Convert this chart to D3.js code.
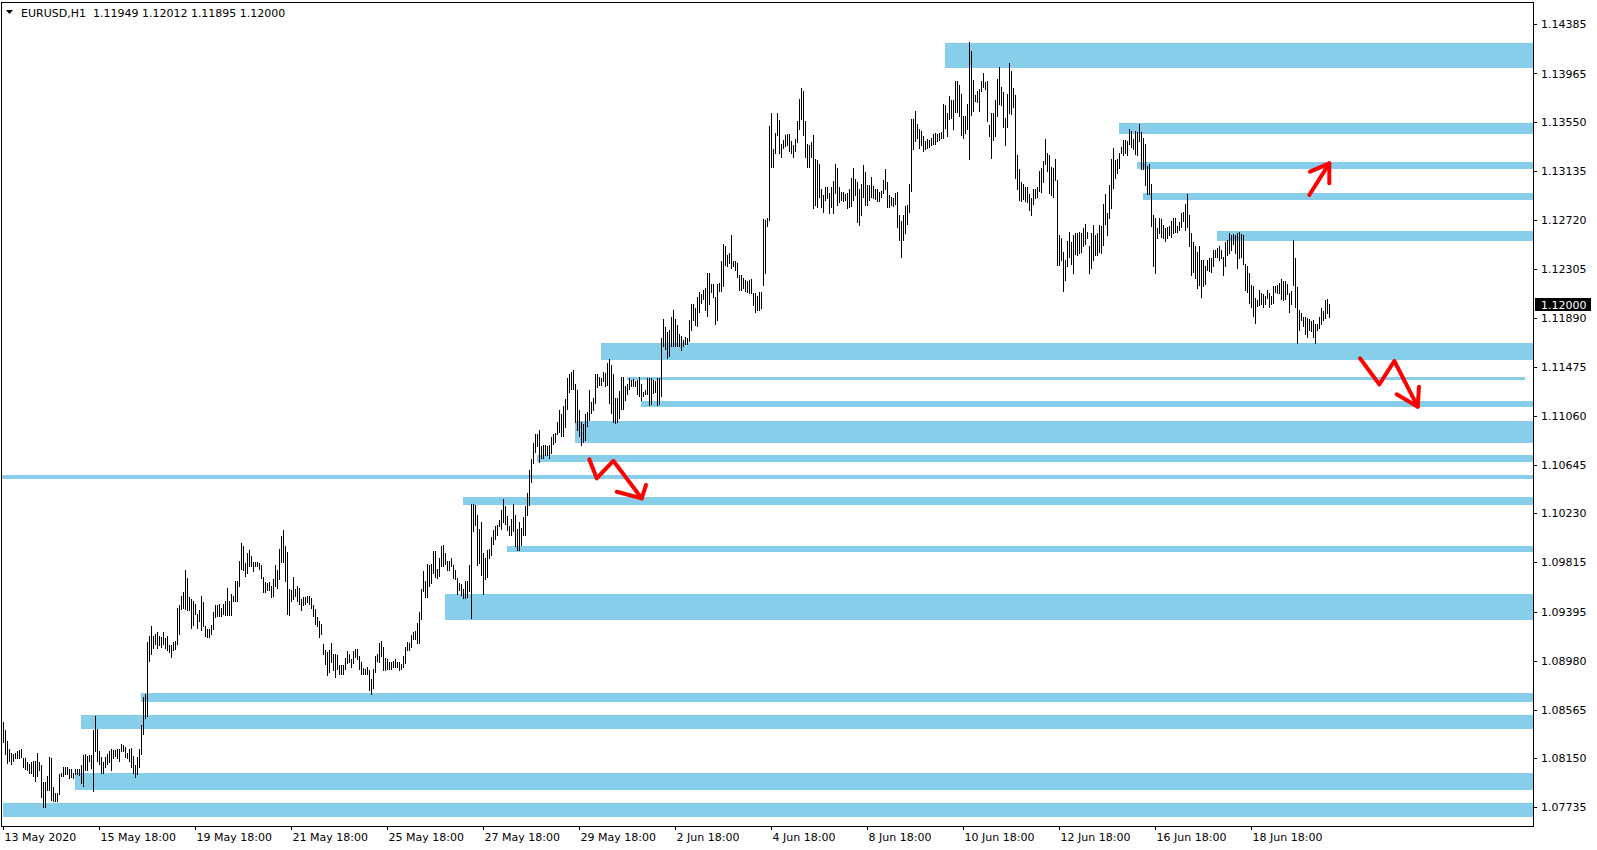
<!DOCTYPE html>
<html><head><meta charset="utf-8">
<script src="https://cdn.jsdelivr.net/npm/d3@7"></script>
<style>
body{margin:0;background:#fff;}
svg{display:block;}
text{font-family:"DejaVu Sans",sans-serif;font-size:11px;fill:#000;}
</style>
</head><body>
<svg id="c" width="1597" height="850"></svg>
<script>
const symbol = "EURUSD,H1";
const lastOHLC = [1.11949, 1.12012, 1.11895, 1.12000];
const currentPrice = 1.12000;
const timeLabels = ["13 May 2020","15 May 18:00","19 May 18:00","21 May 18:00","25 May 18:00","27 May 18:00","29 May 18:00","2 Jun 18:00","4 Jun 18:00","8 Jun 18:00","10 Jun 18:00","12 Jun 18:00","16 Jun 18:00","18 Jun 18:00"];
const barsPerLabel = 48;
const priceTicks = [1.14385,1.13965,1.13550,1.13135,1.12720,1.12305,1.11890,1.11475,1.11060,1.10645,1.10230,1.09815,1.09395,1.08980,1.08565,1.08150,1.07735];

// H1 bar highs / lows
const highs = [
1.0846,1.0839,1.0830,1.0823,1.0820,1.0819,1.0820,1.0821,1.0822,1.0823,
1.0815,1.0815,1.0812,1.0810,1.0812,1.0813,1.0813,1.0820,1.0812,1.0809,
1.0795,1.0795,1.0800,1.0816,1.0815,1.0791,1.0786,1.0786,1.0802,1.0803,
1.0808,1.0808,1.0808,1.0806,1.0806,1.0803,1.0806,1.0806,1.0806,1.0809,
1.0818,1.0819,1.0817,1.0818,1.0818,1.0839,1.0851,1.0840,1.0821,1.0816,
1.0812,1.0816,1.0819,1.0821,1.0823,1.0822,1.0822,1.0823,1.0823,1.0827,
1.0826,1.0825,1.0820,1.0823,1.0824,1.0817,1.0809,1.0816,1.0823,1.0843,
1.0867,1.0870,1.0914,1.0919,1.0927,1.0919,1.0921,1.0922,1.0919,1.0918,
1.0922,1.0917,1.0919,1.0911,1.0911,1.0914,1.0915,1.0943,1.0945,1.0953,
1.0956,1.0975,1.0968,1.0952,1.0950,1.0949,1.0946,1.0938,1.0941,1.0953,
1.0948,1.0927,1.0925,1.0925,1.0928,1.0939,1.0945,1.0945,1.0946,1.0943,
1.0946,1.0949,1.0960,1.0949,1.0955,1.0953,1.0966,1.0966,1.0983,1.0998,
1.0995,1.0981,1.0989,1.0992,1.0987,1.0982,1.0982,1.0982,1.0981,1.0979,
1.0969,1.0965,1.0964,1.0965,1.0961,1.0967,1.0979,1.0975,1.0993,1.1004,
1.1009,1.0995,1.0990,1.0959,1.0958,1.0969,1.0959,1.0961,1.0960,1.0950,
1.0952,1.0952,1.0953,1.0953,1.0951,1.0945,1.0942,1.0935,1.0932,1.0929,
1.0912,1.0907,1.0905,1.0907,1.0913,1.0904,1.0904,1.0903,1.0894,1.0894,
1.0894,1.0900,1.0906,1.0904,1.0899,1.0906,1.0908,1.0908,1.0902,1.0897,
1.0892,1.0891,1.0893,1.0890,1.0882,1.0891,1.0902,1.0904,1.0913,1.0915,
1.0910,1.0900,1.0899,1.0897,1.0897,1.0898,1.0899,1.0897,1.0897,1.0895,
1.0902,1.0910,1.0914,1.0913,1.0920,1.0922,1.0923,1.0930,1.0939,1.0959,
1.0974,1.0966,1.0980,1.0979,1.0980,1.0991,1.0991,1.0976,1.0985,1.0995,
1.0996,1.0989,1.0983,1.0983,1.0985,1.0979,1.0975,1.0968,1.0964,1.0963,
1.0959,1.0966,1.0966,1.0979,1.1031,1.1031,1.1030,1.1022,1.1010,1.1016,
1.0989,1.0985,1.0992,1.0993,1.1003,1.1009,1.1012,1.1013,1.1017,1.1026,
1.1035,1.1029,1.1021,1.1012,1.1018,1.1031,1.1022,1.1010,1.1016,1.1011,
1.1020,1.1029,1.1040,1.1060,1.1069,1.1083,1.1090,1.1090,1.1094,1.1080,
1.1081,1.1081,1.1080,1.1081,1.1088,1.1090,1.1091,1.1101,1.1111,1.1107,
1.1114,1.1120,1.1138,1.1141,1.1143,1.1145,1.1133,1.1128,1.1111,1.1101,
1.1099,1.1107,1.1109,1.1128,1.1118,1.1121,1.1141,1.1141,1.1139,1.1138,
1.1143,1.1142,1.1151,1.1154,1.1149,1.1141,1.1121,1.1121,1.1127,1.1139,
1.1139,1.1131,1.1133,1.1138,1.1136,1.1137,1.1135,1.1136,1.1139,1.1133,
1.1126,1.1128,1.1138,1.1138,1.1138,1.1136,1.1135,1.1138,1.1138,1.1172,
1.1188,1.1181,1.1177,1.1179,1.1190,1.1196,1.1188,1.1183,1.1175,1.1174,
1.1170,1.1173,1.1172,1.1187,1.1201,1.1201,1.1197,1.1207,1.1211,1.1209,
1.1213,1.1214,1.1227,1.1227,1.1218,1.1218,1.1207,1.1218,1.1219,1.1237,
1.1252,1.1250,1.1242,1.1244,1.1259,1.1237,1.1237,1.1236,1.1225,1.1225,
1.1223,1.1221,1.1220,1.1221,1.1222,1.1210,1.1210,1.1208,1.1211,1.1211,
1.1273,1.1272,1.1274,1.1352,1.1363,1.1332,1.1346,1.1363,1.1357,1.1337,
1.1340,1.1344,1.1345,1.1345,1.1339,1.1336,1.1341,1.1356,1.1375,1.1384,
1.1382,1.1356,1.1337,1.1336,1.1338,1.1344,1.1324,1.1323,1.1320,1.1298,
1.1293,1.1300,1.1300,1.1295,1.1300,1.1305,1.1320,1.1316,1.1300,1.1296,
1.1296,1.1294,1.1295,1.1298,1.1308,1.1316,1.1307,1.1304,1.1298,1.1303,
1.1319,1.1313,1.1302,1.1302,1.1309,1.1301,1.1298,1.1298,1.1296,1.1297,
1.1306,1.1315,1.1304,1.1293,1.1292,1.1291,1.1295,1.1296,1.1276,1.1271,
1.1276,1.1284,1.1285,1.1303,1.1358,1.1358,1.1365,1.1354,1.1349,1.1348,
1.1343,1.1339,1.1341,1.1340,1.1342,1.1345,1.1346,1.1345,1.1346,1.1347,
1.1371,1.1370,1.1363,1.1377,1.1374,1.1374,1.1390,1.1390,1.1387,1.1379,
1.1360,1.1360,1.1371,1.1423,1.1416,1.1391,1.1378,1.1382,1.1383,1.1390,
1.1397,1.1389,1.1390,1.1353,1.1363,1.1363,1.1374,1.1392,1.1402,1.1385,
1.1381,1.1359,1.1379,1.1405,1.1399,1.1384,1.1378,1.1327,1.1315,1.1304,
1.1303,1.1300,1.1300,1.1294,1.1291,1.1298,1.1298,1.1300,1.1314,1.1316,
1.1322,1.1341,1.1329,1.1327,1.1317,1.1316,1.1324,1.1306,1.1259,1.1257,
1.1245,1.1238,1.1254,1.1262,1.1253,1.1259,1.1261,1.1261,1.1262,1.1261,
1.1265,1.1269,1.1262,1.1250,1.1261,1.1268,1.1259,1.1261,1.1268,1.1267,
1.1286,1.1294,1.1278,1.1302,1.1324,1.1333,1.1323,1.1324,1.1329,1.1334,
1.1340,1.1340,1.1339,1.1349,1.1348,1.1341,1.1348,1.1347,1.1354,1.1347,
1.1342,1.1337,1.1318,1.1320,1.1303,1.1276,1.1274,1.1265,1.1274,1.1273,
1.1268,1.1265,1.1266,1.1267,1.1271,1.1274,1.1274,1.1267,1.1270,1.1278,
1.1279,1.1286,1.1294,1.1276,1.1261,1.1253,1.1250,1.1245,1.1250,1.1238,
1.1238,1.1233,1.1238,1.1240,1.1240,1.1247,1.1247,1.1248,1.1250,1.1247,
1.1241,1.1253,1.1255,1.1261,1.1259,1.1260,1.1259,1.1261,1.1262,1.1260,
1.1259,1.1235,1.1233,1.1227,1.1217,1.1216,1.1206,1.1204,1.1213,1.1210,
1.1209,1.1208,1.1213,1.1210,1.1208,1.1216,1.1216,1.1217,1.1219,1.1222,
1.1220,1.1220,1.1218,1.1210,1.1212,1.1255,1.1240,1.1215,1.1196,1.1193,
1.1190,1.1190,1.1189,1.1188,1.1186,1.1187,1.1184,1.1184,1.1190,1.1197,
1.1195,1.1204,1.1205,1.12012];
const lows = [
1.0829,1.0819,1.0811,1.0813,1.0810,1.0813,1.0815,1.0815,1.0815,1.0816,
1.0808,1.0806,1.0805,1.0803,1.0803,1.0800,1.0796,1.0800,1.0805,1.0782,
1.0774,1.0774,1.0788,1.0788,1.0780,1.0779,1.0779,1.0779,1.0785,1.0800,
1.0800,1.0802,1.0802,1.0798,1.0799,1.0798,1.0802,1.0802,1.0801,1.0794,
1.0792,1.0805,1.0805,1.0813,1.0807,1.0787,1.0821,1.0813,1.0810,1.0803,
1.0803,1.0808,1.0810,1.0812,1.0805,1.0815,1.0817,1.0815,1.0813,1.0821,
1.0821,1.0816,1.0815,1.0813,1.0808,1.0803,1.0799,1.0802,1.0808,1.0819,
1.0836,1.0849,1.0851,1.0898,1.0904,1.0909,1.0912,1.0909,1.0911,1.0910,
1.0912,1.0909,1.0907,1.0905,1.0901,1.0907,1.0908,1.0912,1.0921,1.0942,
1.0943,1.0942,1.0941,1.0941,1.0926,1.0928,1.0938,1.0926,1.0932,1.0924,
1.0927,1.0919,1.0918,1.0918,1.0921,1.0925,1.0935,1.0936,1.0936,1.0936,
1.0938,1.0937,1.0937,1.0937,1.0937,1.0949,1.0949,1.0949,1.0961,1.0976,
1.0975,1.0970,1.0972,1.0978,1.0978,1.0974,1.0978,1.0978,1.0976,1.0968,
1.0956,1.0956,1.0958,1.0958,1.0952,1.0953,1.0961,1.0960,1.0967,1.0982,
1.0982,1.0966,1.0938,1.0937,1.0949,1.0950,1.0953,1.0949,1.0946,1.0941,
1.0945,1.0946,1.0948,1.0946,1.0943,1.0936,1.0929,1.0927,1.0918,1.0921,
1.0904,1.0895,1.0886,1.0888,1.0897,1.0890,1.0884,1.0891,1.0887,1.0887,
1.0887,1.0891,1.0896,1.0897,1.0893,1.0896,1.0901,1.0899,1.0891,1.0887,
1.0887,1.0887,1.0887,1.0873,1.0870,1.0875,1.0888,1.0898,1.0897,1.0902,
1.0890,1.0890,1.0891,1.0891,1.0891,1.0893,1.0893,1.0893,1.0890,1.0891,
1.0893,1.0896,1.0907,1.0907,1.0910,1.0916,1.0916,1.0913,1.0913,1.0933,
1.0957,1.0952,1.0952,1.0961,1.0964,1.0972,1.0969,1.0968,1.0970,1.0978,
1.0978,1.0980,1.0975,1.0975,1.0978,1.0968,1.0967,1.0955,1.0958,1.0954,
1.0951,1.0951,1.0952,1.0957,1.0934,1.1008,1.1013,1.0979,1.0981,1.0971,
1.0955,1.0967,1.0969,1.0985,1.0988,1.0997,1.1001,1.1005,1.1012,1.1010,
1.1016,1.1014,1.1009,1.1005,1.1005,1.1008,1.0995,1.0992,1.0992,1.0996,
1.1005,1.1005,1.1022,1.1030,1.1050,1.1066,1.1075,1.1080,1.1067,1.1070,
1.1070,1.1073,1.1073,1.1070,1.1074,1.1082,1.1084,1.1090,1.1092,1.1089,
1.1089,1.1096,1.1112,1.1126,1.1129,1.1129,1.1101,1.1094,1.1089,1.1081,
1.1084,1.1085,1.1097,1.1102,1.1108,1.1111,1.1117,1.1130,1.1132,1.1132,
1.1135,1.1131,1.1132,1.1117,1.1108,1.1101,1.1100,1.1101,1.1104,1.1112,
1.1112,1.1119,1.1124,1.1129,1.1131,1.1131,1.1131,1.1124,1.1123,1.1119,
1.1123,1.1124,1.1124,1.1115,1.1116,1.1125,1.1126,1.1115,1.1116,1.1123,
1.1165,1.1163,1.1155,1.1157,1.1165,1.1165,1.1165,1.1165,1.1165,1.1162,
1.1165,1.1167,1.1167,1.1169,1.1179,1.1187,1.1183,1.1182,1.1194,1.1202,
1.1205,1.1196,1.1191,1.1201,1.1211,1.1207,1.1184,1.1187,1.1212,1.1212,
1.1216,1.1234,1.1233,1.1236,1.1231,1.1233,1.1230,1.1224,1.1213,1.1213,
1.1214,1.1212,1.1211,1.1210,1.1210,1.1200,1.1194,1.1196,1.1196,1.1197,
1.1217,1.1227,1.1267,1.1272,1.1317,1.1317,1.1329,1.1344,1.1329,1.1326,
1.1333,1.1335,1.1336,1.1331,1.1329,1.1326,1.1331,1.1338,1.1349,1.1358,
1.1344,1.1326,1.1317,1.1317,1.1326,1.1282,1.1285,1.1283,1.1292,1.1283,
1.1279,1.1289,1.1291,1.1278,1.1283,1.1278,1.1295,1.1285,1.1287,1.1289,
1.1288,1.1289,1.1282,1.1283,1.1284,1.1289,1.1293,1.1270,1.1268,1.1276,
1.1292,1.1285,1.1285,1.1289,1.1292,1.1291,1.1290,1.1288,1.1288,1.1292,
1.1295,1.1298,1.1283,1.1283,1.1285,1.1284,1.1286,1.1266,1.1255,1.1241,
1.1255,1.1261,1.1269,1.1279,1.1297,1.1332,1.1339,1.1342,1.1333,1.1336,
1.1331,1.1332,1.1333,1.1334,1.1336,1.1337,1.1337,1.1339,1.1340,1.1342,
1.1342,1.1350,1.1343,1.1358,1.1359,1.1349,1.1364,1.1364,1.1360,1.1344,
1.1342,1.1346,1.1349,1.1324,1.1361,1.1365,1.1373,1.1372,1.1365,1.1382,
1.1385,1.1383,1.1356,1.1343,1.1325,1.1340,1.1343,1.1360,1.1371,1.1370,
1.1351,1.1336,1.1351,1.1363,1.1362,1.1368,1.1308,1.1298,1.1289,1.1288,
1.1290,1.1288,1.1287,1.1281,1.1276,1.1286,1.1291,1.1292,1.1297,1.1296,
1.1304,1.1320,1.1314,1.1295,1.1293,1.1292,1.1306,1.1234,1.1234,1.1238,
1.1212,1.1221,1.1233,1.1241,1.1235,1.1227,1.1243,1.1242,1.1244,1.1245,
1.1250,1.1252,1.1257,1.1227,1.1231,1.1238,1.1242,1.1242,1.1245,1.1244,
1.1251,1.1269,1.1259,1.1274,1.1282,1.1299,1.1308,1.1312,1.1316,1.1329,
1.1327,1.1329,1.1327,1.1337,1.1334,1.1332,1.1328,1.1327,1.1339,1.1315,
1.1315,1.1302,1.1294,1.1294,1.1267,1.1233,1.1227,1.1257,1.1261,1.1258,
1.1257,1.1254,1.1257,1.1259,1.1258,1.1261,1.1262,1.1262,1.1264,1.1266,
1.1271,1.1264,1.1266,1.1250,1.1225,1.1228,1.1223,1.1214,1.1217,1.1207,
1.1216,1.1218,1.1230,1.1229,1.1228,1.1233,1.1241,1.1241,1.1238,1.1240,
1.1225,1.1233,1.1242,1.1244,1.1247,1.1252,1.1244,1.1231,1.1240,1.1241,
1.1235,1.1213,1.1211,1.1202,1.1198,1.1191,1.1185,1.1199,1.1200,1.1201,
1.1198,1.1201,1.1206,1.1198,1.1201,1.1202,1.1211,1.1210,1.1210,1.1205,
1.1204,1.1205,1.1209,1.1194,1.1201,1.1217,1.1198,1.1168,1.1179,1.1187,
1.1182,1.1175,1.1173,1.1179,1.1178,1.1173,1.1168,1.1179,1.1180,1.1184,
1.1187,1.1189,1.1193,1.11895];

// support / resistance rectangles (start bar, end bar or null = to the price scale, top, bottom)
const zoneStart  = [471, 558, 567, 570, 607, 299, 312, 319, 286, 267, -1, 230, 252, 221, 69, 39, 36, 0];
const zoneEnd    = [null,null,null,null,null,null,761,null,null,null,null,null,null,null,null,null,null,null];
const zoneTop    = [1.14226,1.13542,1.13213,1.12948,1.12628,1.11679,1.11391,1.11187,1.11017,1.10726,1.10556,1.10367,1.09953,1.09546,1.08708,1.08518,1.08029,1.07774];
const zoneBottom = [1.14014,1.13451,1.13157,1.12891,1.12545,1.11532,1.11363,1.11136,1.10825,1.10669,1.10522,1.10304,1.09902,1.09325,1.08631,1.08400,1.07882,1.07655];

// hand-drawn red arrows, as [bar, price] points
const arrowPaths = [
  [[292.9,1.10689],[296.6,1.10528],[304.9,1.10677],[319.1,1.10358]],
  [[306.6,1.10414],[319.1,1.10358],[321.25,1.10471]],
  [[652.9,1.12933],[662.9,1.13202]],
  [[653.25,1.13131],[662.9,1.13202],[662.9,1.13033]],
  [[678.25,1.11547],[687.9,1.11326],[695.4,1.11524],[707.1,1.11136]],
  [[696.6,1.11241],[707.1,1.11136],[707.75,1.11306]]
];

const plotL = 2, plotR = 1533, plotT = 2, plotB = 826;
const svg = d3.select("#c");

const x = d3.scaleLinear().domain([0, 663]).range([3, 1329]);
const y = d3.scaleLinear().domain([1.07735, 1.14385]).range([807.3, 24]);

svg.append("defs").append("clipPath").attr("id","plot")
  .append("rect").attr("x", plotL).attr("y", plotT).attr("width", plotR - plotL).attr("height", plotB - plotT);

const plot = svg.append("g").attr("clip-path","url(#plot)");

// zones
const zones = zoneStart.map((s,i)=>({s, e: zoneEnd[i], t: zoneTop[i], b: zoneBottom[i]}));
plot.append("g").selectAll("rect").data(zones).join("rect")
  .attr("x", d => x(d.s))
  .attr("y", d => y(d.t))
  .attr("width", d => (d.e === null ? plotR : x(d.e)) - x(d.s))
  .attr("height", d => y(d.b) - y(d.t))
  .attr("fill", "#87CEEB")
  .attr("shape-rendering","crispEdges");

// bars
const bars = highs.map((h,i)=>({i, h, l: lows[i]}));
plot.append("g").selectAll("line").data(bars).join("line")
  .attr("x1", d => x(d.i) + 0.5).attr("x2", d => x(d.i) + 0.5)
  .attr("y1", d => y(d.h)).attr("y2", d => y(d.l) + 1)
  .attr("stroke", "#000").attr("stroke-width", 1)
  .attr("shape-rendering","crispEdges");

// arrows
const line = d3.line().x(d => x(d[0]) + 0.5).y(d => y(d[1]));
plot.append("g").selectAll("path").data(arrowPaths).join("path")
  .attr("d", line)
  .attr("fill","none").attr("stroke","#ff0000").attr("stroke-width",4)
  .attr("stroke-linecap","round").attr("stroke-linejoin","round");

// frame
svg.append("rect").attr("x", plotL - 0.5).attr("y", plotT + 0.5)
  .attr("width", plotR - plotL + 1).attr("height", plotB - plotT)
  .attr("fill","none").attr("stroke","#000").attr("shape-rendering","crispEdges");

// right price axis
const yAxis = d3.axisRight(y).tickValues(priceTicks).tickFormat(d3.format(".5f")).tickSize(4).tickPadding(4);
const gy = svg.append("g").attr("transform", `translate(${plotR},0)`).call(yAxis);
gy.select(".domain").remove();
gy.selectAll("line").attr("shape-rendering","crispEdges");
gy.selectAll("text").attr("font-family","DejaVu Sans").attr("font-size",11);

// bottom time axis
const labelBars = timeLabels.map((_,k)=>k*barsPerLabel);
const xAxis = d3.axisBottom(x).tickValues(labelBars).tickFormat((d,i)=>timeLabels[i]).tickSize(4).tickPadding(3);
const gx = svg.append("g").attr("transform", `translate(0,${plotB})`).call(xAxis);
gx.select(".domain").remove();
gx.selectAll("line").attr("shape-rendering","crispEdges");
gx.selectAll("text").attr("text-anchor","start").attr("dx", 1).attr("font-family","DejaVu Sans").attr("font-size",11);

// current price label
const cy = y(currentPrice);
svg.append("rect").attr("x", plotR + 2).attr("y", Math.round(cy) - 7).attr("width", 56).attr("height", 13).attr("fill","#000");
svg.append("text").attr("x", plotR + 8).attr("y", cy).attr("dy","0.35em").style("fill","#fff")
  .text(d3.format(".5f")(currentPrice));

// header
svg.append("path").attr("d","M6,10 L13,10 L9.5,14 Z").attr("fill","#000");
const fmt = d3.format(".5f");
svg.append("text").attr("x", 21).attr("y", 17).attr("xml:space","preserve").style("white-space","pre")
  .text(symbol + "  " + lastOHLC.map(fmt).join(" "));
</script>
</body></html>
